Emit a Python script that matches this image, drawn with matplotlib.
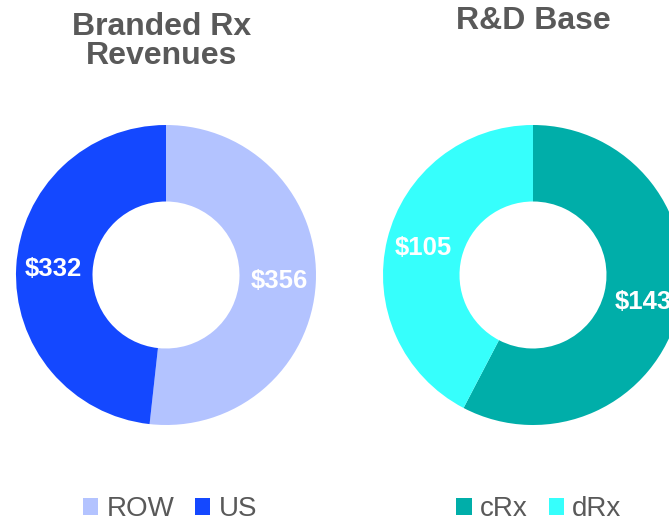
import matplotlib
matplotlib.use("Agg")
import matplotlib.pyplot as plt
from matplotlib.patches import Patch

plt.rcParams['font.family'] = ['Liberation Sans', 'DejaVu Sans']

# data
rev_labels = ['ROW', 'US']
rev_values = [356, 332]
rev_colors = ['#B3C3FF', '#1448FF']

rd_labels = ['cRx', 'dRx']
rd_values = [143, 105]
rd_colors = ['#00AEA9', '#36FFFC']

GRAY = '#595959'
W, H = 669, 523


def donut(ax, values, colors):
    total = sum(values)
    wedges, texts, autotexts = ax.pie(
        values, colors=colors, startangle=90, counterclock=False,
        wedgeprops=dict(width=0.51, linewidth=0),
        autopct=lambda p: f"${p * total / 100:.0f}", pctdistance=0.755,
        textprops=dict(color='white', fontsize=18.5, fontweight='bold'))
    ax.set_xlim(-1, 1)
    ax.set_ylim(-1, 1)
    ax.set_aspect('equal')
    return wedges


fig = plt.figure(figsize=(W / 100, H / 100), dpi=100)

ax1 = fig.add_axes([16 / W, (H - 425) / H, 300 / W, 300 / H])
w1 = donut(ax1, rev_values, rev_colors)
ax2 = fig.add_axes([383 / W, (H - 425) / H, 300 / W, 300 / H])
w2 = donut(ax2, rd_values, rd_colors)

fig.text(162 / W, (H - 35) / H, 'Branded Rx', ha='center', va='baseline',
         fontsize=23, fontweight='bold', color=GRAY)
fig.text(162 / W, (H - 64) / H, 'Revenues', ha='center', va='baseline',
         fontsize=23, fontweight='bold', color=GRAY)
fig.text(533 / W, (H - 29) / H, 'R&D Base', ha='center', va='baseline',
         fontsize=23, fontweight='bold', color=GRAY)

leg_kw = dict(loc='center', ncol=2, frameon=False, fontsize=20,
              handlelength=0.55, handleheight=0.55, handletextpad=0.3,
              columnspacing=0.75, labelcolor=GRAY, borderpad=0, borderaxespad=0)

h1 = [Patch(color=c, linewidth=0) for c in rev_colors]
fig.legend(h1, rev_labels, bbox_to_anchor=(170 / W, (H - 509) / H), **leg_kw)
h2 = [Patch(color=c, linewidth=0) for c in rd_colors]
fig.legend(h2, rd_labels, bbox_to_anchor=(539 / W, (H - 509) / H), **leg_kw)

fig.savefig('out.png', dpi=100)
